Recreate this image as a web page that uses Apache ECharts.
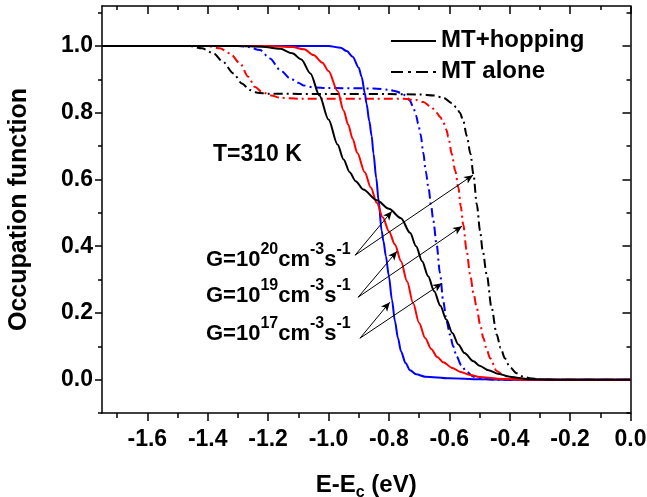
<!DOCTYPE html>
<html>
<head>
<meta charset="utf-8">
<script src="https://cdn.jsdelivr.net/npm/echarts@6.0.0/dist/echarts.min.js"></script>
<style>
  html, body { margin: 0; padding: 0; background: #fff; }
  #main { width: 647px; height: 497px; }
</style>
</head>
<body>
<div id="main"></div>
<script>
// tick positions
var xMajor = [-1.6, -1.4, -1.2, -1.0, -0.8, -0.6, -0.4, -0.2, 0.0];
var xMinor = [-1.7, -1.5, -1.3, -1.1, -0.9, -0.7, -0.5, -0.3, -0.1];
var yMajor = [0.0, 0.2, 0.4, 0.6, 0.8, 1.0];
var yMinor = [-0.1, 0.1, 0.3, 0.5, 0.7, 0.9, 1.1];

// MT+hopping (solid)
var hop20 = [[-1.75,1],[-1.30,1.0],[-1.22,0.998],[-1.16,0.992],[-1.12,0.978],[-1.09,0.96],[-1.06,0.918],[-1.03,0.852],
  [-1.0,0.78],[-0.97,0.705],[-0.95,0.66],[-0.93,0.622],[-0.91,0.595],[-0.885,0.57],[-0.84,0.538],[-0.80,0.512],[-0.76,0.484],
  [-0.73,0.44],[-0.71,0.40],[-0.69,0.355],[-0.67,0.31],[-0.65,0.265],[-0.63,0.222],[-0.61,0.18],
  [-0.59,0.14],[-0.57,0.105],[-0.55,0.08],[-0.52,0.055],[-0.50,0.042],[-0.47,0.028],[-0.44,0.018],
  [-0.40,0.009],[-0.37,0.005],[-0.33,0.001],[-0.25,0],[0,0]];
var hop19 = [[-1.75,1],[-1.20,1.0],[-1.12,0.997],[-1.08,0.99],[-1.05,0.973],[-1.02,0.95],[-1.0,0.925],[-0.97,0.865],
  [-0.95,0.807],[-0.935,0.765],[-0.92,0.722],[-0.905,0.68],[-0.88,0.622],[-0.86,0.576],[-0.84,0.53],[-0.82,0.486],
  [-0.80,0.445],[-0.78,0.405],[-0.76,0.355],[-0.74,0.295],[-0.72,0.23],[-0.70,0.17],[-0.68,0.125],
  [-0.66,0.092],[-0.64,0.068],[-0.62,0.052],[-0.59,0.035],[-0.565,0.024],[-0.53,0.014],[-0.50,0.008],[-0.44,0.003],
  [-0.35,0],[0,0]];
var hop17 = [[-1.75,1],[-1.0,1.0],[-0.96,0.995],[-0.94,0.985],[-0.92,0.968],[-0.90,0.935],[-0.89,0.907],[-0.88,0.86],
  [-0.874,0.827],[-0.865,0.775],[-0.857,0.73],[-0.851,0.677],[-0.842,0.605],[-0.834,0.536],[-0.824,0.446],
  [-0.818,0.415],[-0.81,0.37],[-0.80,0.31],[-0.79,0.24],[-0.78,0.175],[-0.77,0.125],[-0.76,0.085],[-0.745,0.05],
  [-0.73,0.028],[-0.71,0.016],[-0.68,0.009],[-0.60,0.004],[-0.50,0.001],[-0.40,0],[0,0]];

// MT alone (dash-dot)
var mt20 = [[-1.75,1],[-1.46,1.0],[-1.42,0.993],[-1.38,0.978],[-1.35,0.953],[-1.315,0.918],[-1.287,0.888],[-1.26,0.868],
  [-1.235,0.86],[-1.20,0.857],[-1.0,0.856],[-0.80,0.856],[-0.70,0.855],[-0.65,0.852],[-0.62,0.845],[-0.59,0.828],
  [-0.576,0.815],[-0.565,0.80],[-0.554,0.777],[-0.542,0.73],[-0.53,0.677],[-0.52,0.615],[-0.509,0.526],[-0.498,0.446],
  [-0.49,0.39],[-0.476,0.315],[-0.46,0.215],[-0.443,0.135],[-0.43,0.095],[-0.416,0.064],[-0.40,0.038],[-0.377,0.019],
  [-0.355,0.009],[-0.333,0.004],[-0.30,0.001],[-0.25,0],[0,0]];
var mt19 = [[-1.75,1],[-1.40,1.0],[-1.36,0.993],[-1.326,0.978],[-1.293,0.948],[-1.266,0.908],[-1.243,0.877],[-1.22,0.862],
  [-1.19,0.852],[-1.16,0.845],[-1.10,0.842],[-0.75,0.842],[-0.71,0.838],[-0.686,0.832],[-0.66,0.818],[-0.642,0.80],
  [-0.63,0.787],[-0.62,0.772],[-0.61,0.75],[-0.603,0.727],[-0.592,0.677],[-0.58,0.625],[-0.57,0.576],[-0.562,0.52],
  [-0.554,0.466],[-0.543,0.39],[-0.531,0.315],[-0.52,0.26],[-0.509,0.215],[-0.498,0.165],[-0.487,0.124],[-0.476,0.09],
  [-0.465,0.064],[-0.443,0.026],[-0.42,0.012],[-0.40,0.006],[-0.37,0.002],[-0.33,0],[0,0]];
var mt17 = [[-1.75,1],[-1.30,1.0],[-1.27,0.998],[-1.227,0.988],[-1.194,0.963],[-1.16,0.928],[-1.127,0.903],[-1.10,0.89],
  [-1.083,0.882],[-1.05,0.876],[-1.0,0.874],[-0.85,0.873],[-0.80,0.869],[-0.785,0.866],[-0.76,0.86],[-0.741,0.85],
  [-0.73,0.835],[-0.719,0.815],[-0.71,0.792],[-0.703,0.767],[-0.695,0.735],[-0.686,0.68],[-0.678,0.625],[-0.669,0.576],
  [-0.66,0.52],[-0.653,0.476],[-0.642,0.405],[-0.631,0.32],[-0.62,0.235],[-0.609,0.175],[-0.598,0.135],[-0.587,0.1],
  [-0.576,0.07],[-0.56,0.042],[-0.543,0.024],[-0.52,0.009],[-0.49,0.003],[-0.45,0],[0,0]];

// arrows: label point -> curve point
var arrows = [
  [[-0.912, 0.373], [-0.790, 0.505]],
  [[-0.912, 0.373], [-0.5215, 0.613]],
  [[-0.902, 0.247], [-0.773, 0.385]],
  [[-0.902, 0.247], [-0.558, 0.460]],
  [[-0.896, 0.124], [-0.797, 0.232]],
  [[-0.896, 0.124], [-0.624, 0.289]]
];

var FONT = '"Liberation Sans", Arial, sans-serif';
var dashDot = [9, 4, 2, 4];

var chart = echarts.init(document.getElementById('main'));

function xAx(pos, vals, len, inside, main) {
  return {
    type: 'value', position: pos, min: -1.75, max: 0,
    axisLine: { show: main, onZero: false, lineStyle: { color: '#000', width: 1.5 } },
    axisTick: { show: true, inside: inside, length: len, customValues: vals, lineStyle: { color: '#000', width: 1.5 } },
    axisLabel: { show: false },
    splitLine: { show: false }
  };
}
function yAx(pos, vals, len, inside, main) {
  return {
    type: 'value', position: pos, min: -0.1, max: 1.12,
    axisLine: { show: main, onZero: false, lineStyle: { color: '#000', width: 1.5 } },
    axisTick: { show: true, inside: inside, length: len, customValues: vals, lineStyle: { color: '#000', width: 1.5 } },
    axisLabel: { show: false },
    splitLine: { show: false }
  };
}

var xBottom = xAx('bottom', xMajor, 8, false, true);
xBottom.axisLabel = {
  show: true, customValues: xMajor, margin: 15, color: '#000',
  fontSize: 23, fontWeight: 'bold', fontFamily: FONT,
  formatter: function (v) { return v.toFixed(1); }
};
xBottom.name = '{m|E-E}{s|c}{m| (eV)}';
xBottom.nameLocation = 'middle';
xBottom.nameGap = 60;
xBottom.nameTextStyle = {
  color: '#000',
  rich: {
    m: { fontSize: 24, fontWeight: 'bold', fontFamily: FONT, color: '#000', verticalAlign: 'top' },
    s: { fontSize: 16, fontWeight: 'bold', fontFamily: FONT, color: '#000', verticalAlign: 'top', padding: [12, 0, 0, 0] }
  }
};

var yLeft = yAx('left', yMajor, 7, false, true);
yLeft.axisLabel = {
  show: true, customValues: yMajor, margin: 9, color: '#000',
  fontSize: 23, fontWeight: 'bold', fontFamily: FONT,
  formatter: function (v) { return v.toFixed(1); }
};
yLeft.name = 'Occupation function';
yLeft.nameLocation = 'middle';
yLeft.nameGap = 70;
yLeft.nameTextStyle = { color: '#000', fontSize: 25, fontWeight: 'bold', fontFamily: FONT };

function curve(name, data, color, dashed) {
  return {
    name: name, type: 'line', data: data, symbol: 'none',
    smooth: 0.3, smoothMonotone: 'x',
    lineStyle: { color: color, width: 2, type: dashed ? dashDot : 'solid' },
    itemStyle: { color: color },
    animation: false, silent: true, z: dashed ? 2 : 3
  };
}

var series = [
  curve('hop17', hop17, '#0000ff', false),
  curve('hop19', hop19, '#ff0000', false),
  curve('hop20', hop20, '#000000', false),
  curve('mt17', mt17, '#0000ff', true),
  curve('mt19', mt19, '#ff0000', true),
  curve('mt20', mt20, '#000000', true)
];
series[2].markLine = {
  silent: true, animation: false,
  symbol: ['none', 'arrow'], symbolSize: [6, 9],
  label: { show: false },
  lineStyle: { color: '#000', width: 1, type: 'solid' },
  emphasis: { disabled: true },
  data: arrows.map(function (a) {
    return [{ coord: a[0] }, { coord: a[1] }];
  })
};

function gLabel(exp, top) {
  return {
    type: 'text', left: 206, top: top, z: 10,
    style: {
      text: '{m|G=10}{s|' + exp + '}{m|cm}{s|-3}{m|s}{s|-1}',
      rich: {
        m: { fontSize: 22, fontWeight: 'bold', fontFamily: FONT, fill: '#000', verticalAlign: 'top', padding: [7, 0, 0, 0] },
        s: { fontSize: 16, fontWeight: 'bold', fontFamily: FONT, fill: '#000', verticalAlign: 'top' }
      }
    }
  };
}

var option = {
  backgroundColor: '#fff',
  animation: false,
  grid: { left: 102, right: 16.5, top: 6, bottom: 84, outerBoundsMode: 'none' },
  xAxis: [
    xBottom,
    xAx('bottom', xMinor, 5, false, false),
    xAx('top', xMajor, 8, true, true),
    xAx('top', xMinor, 4, true, false)
  ],
  yAxis: [
    yLeft,
    yAx('left', yMinor, 4, false, false),
    yAx('right', yMajor, 8, true, true),
    yAx('right', yMinor, 4, true, false)
  ],
  series: series,
  graphic: [
    { type: 'line', shape: { x1: 391, y1: 41, x2: 436, y2: 41 }, style: { stroke: '#000', lineWidth: 2 } },
    { type: 'text', left: 441, top: 28, style: { text: 'MT+hopping', font: 'bold 24px ' + FONT, fill: '#000' } },
    { type: 'line', shape: { x1: 391, y1: 72, x2: 436, y2: 72 }, style: { stroke: '#000', lineWidth: 2, lineDash: [12, 5, 3, 5] } },
    { type: 'text', left: 441, top: 59, style: { text: 'MT alone', font: 'bold 24px ' + FONT, fill: '#000' } },
    { type: 'text', left: 213, top: 143, style: { text: 'T=310 K', font: 'bold 23px ' + FONT, fill: '#000' } },
    gLabel('20', 242),
    gLabel('19', 278),
    gLabel('17', 315.5)
  ]
};

chart.setOption(option);
</script>
</body>
</html>
